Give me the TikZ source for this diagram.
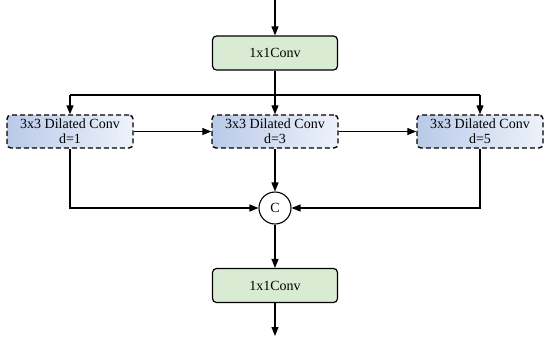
\documentclass[tikz,border=0pt]{standalone}
\usepackage{fontspec}
\setmainfont{Liberation Serif}
\usetikzlibrary{arrows.meta}
\definecolor{convgreen}{HTML}{DAEBD3}
\definecolor{dilL}{HTML}{B9CAE8}
\definecolor{dilR}{HTML}{EEF2FA}
\begin{document}
\begin{tikzpicture}[x=1pt,y=-1pt,
  conv/.style={draw, line width=1.2pt, rounded corners=4pt, fill=convgreen,
    minimum width=125pt, minimum height=34pt, inner sep=0pt,
    font=\fontsize{14}{15}\selectfont},
  dil/.style={draw, line width=1.4pt, dash pattern=on 5pt off 3pt, rounded corners=4pt,
    left color=dilL, right color=dilR,
    minimum width=126pt, minimum height=33pt, inner sep=0pt, align=center,
    font=\fontsize{14}{15}\selectfont},
  cat/.style={draw, circle, line width=1.1pt, fill=white, minimum size=32pt, inner sep=0pt,
    font=\fontsize{14}{15}\selectfont},
  arr/.style={line width=1.2pt, -{Triangle[length=9pt,width=7pt]}},
  ln/.style={line width=1.2pt}]
\useasboundingbox (0,0) rectangle (550,341);
\coordinate (in) at (275,0);
\coordinate (out) at (275,336);
\node[conv] (c1) at (275,53) {1x1Conv};
\node[dil] (d1) at (70,131.5) {3x3 Dilated Conv\\d=1};
\node[dil] (d2) at (275,131.5) {3x3 Dilated Conv\\d=3};
\node[dil] (d3) at (480,131.5) {3x3 Dilated Conv\\d=5};
\node[cat] (cc) at (275,208) {C};
\node[conv] (c2) at (275,285.5) {1x1Conv};
\coordinate (split) at (275,95);
\draw[arr] (in) -- (c1.north);
\draw[arr] (c1.south) -- (d2.north);
\draw[ln] (d1.north |- split) -- (d3.north |- split);
\draw[arr] (d1.north |- split) -- (d1.north);
\draw[arr] (d3.north |- split) -- (d3.north);
\draw[arr] (d1.east) -- (d2.west);
\draw[arr] (d2.east) -- (d3.west);
\draw[arr] (d1.south) |- (cc.west);
\draw[arr] (d3.south) |- (cc.east);
\draw[arr] (d2.south) -- (cc.north);
\draw[arr] (cc.south) -- (c2.north);
\draw[arr] (c2.south) -- (out);
\end{tikzpicture}
\end{document}
